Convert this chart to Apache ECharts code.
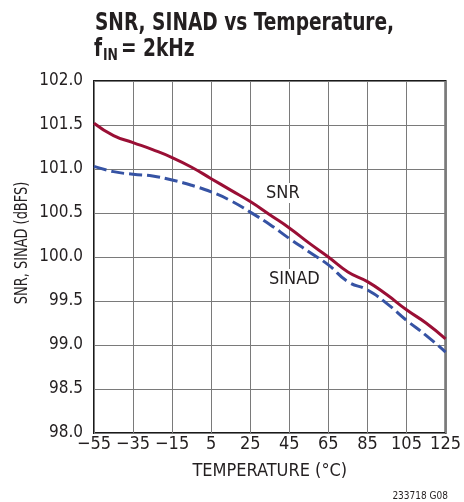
<!DOCTYPE html>
<html>
<head>
<meta charset="utf-8">
<script src="https://cdn.jsdelivr.net/npm/echarts@6/dist/echarts.min.js"></script>
<style>
  html, body { margin: 0; padding: 0; background: #fff; }
  #chart { width: 464px; height: 502px; }
</style>
</head>
<body>
<div id="chart"></div>
<script>
const temps = [-55, -45, -35, -25, -15, -5, 5, 15, 25, 35, 45, 55, 65, 75, 85, 95, 105, 115, 125]
const snr = [101.52, 101.38, 101.30, 101.22, 101.13, 101.02, 100.89, 100.76, 100.63, 100.48, 100.33, 100.16, 100.0, 99.83, 99.72, 99.57, 99.40, 99.25, 99.07]
const sinad = [101.03, 100.97, 100.94, 100.92, 100.875, 100.815, 100.74, 100.64, 100.51, 100.37, 100.21, 100.06, 99.91, 99.72, 99.625, 99.47, 99.28, 99.11, 98.92]
const xTicks = ['−55', '−35', '−15', '5', '25', '45', '65', '85', '105', '125']

const FONT = '"DejaVu Sans Condensed", "Liberation Sans", sans-serif'
const X0 = -55 // axis is drawn with offset so ticks start at 0
const INK = '#231f20'

const chart = echarts.init(document.getElementById('chart'))

chart.setOption({
  animation: false,
  grid: {
    left: 94, right: 18, top: 81, bottom: 69,
    show: true, borderColor: '#1a1a1a', borderWidth: 2, backgroundColor: 'transparent'
  },
  xAxis: {
    type: 'value',
    min: 0, max: 180, interval: 20,
    name: 'TEMPERATURE (°C)',
    nameLocation: 'middle',
    nameGap: 29,
    nameTextStyle: { fontFamily: FONT, fontSize: 18, color: INK },
    axisLine: { show: false },
    axisTick: { show: false },
    axisLabel: {
      margin: 2, fontFamily: FONT, fontSize: 18, color: INK,
      formatter: v => xTicks[Math.round(v / 20)]
    },
    splitLine: { show: true, lineStyle: { color: '#7a7a7a', width: 1 } }
  },
  yAxis: {
    type: 'value',
    min: 98, max: 102, interval: 0.5,
    axisLine: { show: false },
    axisTick: { show: false },
    axisLabel: {
      margin: 11, fontFamily: FONT, fontSize: 17, color: INK,
      formatter: v => v.toFixed(1)
    },
    splitLine: { show: true, lineStyle: { color: '#7a7a7a', width: 1 } }
  },
  series: [
    {
      name: 'SNR',
      type: 'line',
      smooth: 0.5,
      symbol: 'none',
      data: temps.map((t, i) => [t - X0, snr[i]]),
      lineStyle: { color: '#9a0f35', width: 3 },
      z: 3
    },
    {
      name: 'SINAD',
      type: 'line',
      smooth: 0.5,
      symbol: 'none',
      data: temps.map((t, i) => [t - X0, sinad[i]]),
      lineStyle: { color: '#3653a4', width: 3, type: [13, 5] },
      z: 2
    }
  ],
  graphic: [
    // title, condensed horizontally to match the original type
    {
      type: 'text', x: 95, y: 12, scaleX: 0.86,
      style: { text: 'SNR, SINAD vs Temperature,', font: 'bold 24px ' + FONT, fill: INK }
    },
    {
      type: 'text', x: 94, y: 38, scaleX: 0.86,
      style: { text: 'f', font: 'bold 24px ' + FONT, fill: INK }
    },
    {
      type: 'text', x: 103, y: 48, scaleX: 0.86,
      style: { text: 'IN', font: 'bold 16px ' + FONT, fill: INK }
    },
    {
      type: 'text', x: 121, y: 38, scaleX: 0.86,
      style: { text: '= 2kHz', font: 'bold 24px ' + FONT, fill: INK }
    },
    // y axis title
    {
      type: 'text', x: 22, y: 243, rotation: Math.PI / 2, scaleX: 0.8,
      style: { text: 'SNR, SINAD (dBFS)', font: '18px ' + FONT, fill: INK, align: 'center', verticalAlign: 'middle' }
    },
    {
      type: 'text', x: 265, y: 183, z: 10,
      style: { text: 'SNR', font: '18px ' + FONT, fill: INK, backgroundColor: '#fff', padding: [1, 1] }
    },
    {
      type: 'text', x: 268, y: 269, z: 10,
      style: { text: 'SINAD', font: '18px ' + FONT, fill: INK, backgroundColor: '#fff', padding: [1, 1] }
    },
    {
      type: 'text', x: 448, y: 491,
      style: { text: '233718 G08', font: '10px ' + FONT, fill: INK, align: 'right' }
    }
  ]
})
</script>
</body>
</html>
